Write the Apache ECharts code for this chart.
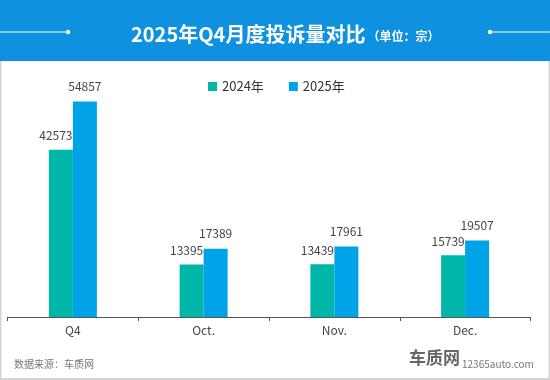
<!DOCTYPE html>
<html><head><meta charset="utf-8">
<script src="https://cdn.jsdelivr.net/npm/echarts@6/dist/echarts.min.js"></script>
<style>html,body{margin:0;padding:0;background:#fff}#c{width:550px;height:380px}</style>
</head><body><div id="c"></div>
<script>
const categories = ['Q4', 'Oct.', 'Nov.', 'Dec.'];
const seriesNames = ['2024年', '2025年'];
const values2024 = [42573, 13395, 13439, 15739];
const values2025 = [54857, 17389, 17961, 19507];
const titleMain = '2025年Q4月度投诉量对比';
const titleUnit = '（单位：宗）';
const sourceText = '数据来源：车质网';
const logoText = '车质网';
const logoUrl = '12365auto.com';

const FONT = '"Noto Sans CJK SC", "Noto Sans", sans-serif';
const chart = echarts.init(document.getElementById('c'));

// subtle diagonal stripes on the header band
const stripes = [];
for (let k = -70; k < 560; k += 4) {
  stripes.push({ type: 'line', z: -9, silent: true,
    shape: { x1: k, y1: 61, x2: k + 61, y2: 0 },
    style: { stroke: 'rgba(255,255,255,0.045)', lineWidth: 1.5 } });
}

chart.setOption({
  animation: false,
  backgroundColor: '#fff',
  textStyle: { fontFamily: FONT },
  color: ['#00b6a9', '#00a2e8'],
  title: {
    text: '{m|' + titleMain + '}{u|' + titleUnit + '}',
    left: 126, top: 19,
    textStyle: {
      rich: {
        m: { fontSize: 20, fontWeight: 'bold', color: '#fff', fontFamily: FONT },
        u: { fontSize: 12, color: '#fff', fontFamily: FONT, padding: [4, 0, 0, 2] }
      }
    }
  },
  legend: {
    data: seriesNames, top: 75, left: 203, itemWidth: 9, itemHeight: 9, itemGap: 25,
    icon: 'rect',
    textStyle: { fontSize: 13, color: '#333', fontFamily: FONT }
  },
  grid: { left: 7.5, right: 19.5, top: 81.4, bottom: 63 },
  xAxis: {
    type: 'category', data: categories,
    axisLine: { lineStyle: { color: '#555', width: 1 } },
    axisTick: { show: true, length: 4, lineStyle: { color: '#555' } },
    axisLabel: { fontSize: 12, color: '#444', margin: 7, fontFamily: FONT }
  },
  yAxis: { type: 'value', min: 0, max: 60000, show: false, splitLine: { show: false } },
  series: [
    { name: seriesNames[0], type: 'bar', data: values2024, barWidth: 24, barGap: '0%',
      label: { show: true, position: 'top', offset: [-5, -3], fontSize: 12, color: '#444', fontFamily: FONT } },
    { name: seriesNames[1], type: 'bar', data: values2025, barWidth: 24,
      label: { show: true, position: 'top', offset: [0, -4], fontSize: 12, color: '#444', fontFamily: FONT } }
  ],
  graphic: [
    { type: 'rect', z: -10, shape: { x: 0, y: 0, width: 550, height: 61 }, style: { fill: '#0a8fdf' } },
    ...stripes,
    { type: 'rect', z: -10, shape: { x: 0, y: 61, width: 1.5, height: 319 }, style: { fill: '#d4d4d4' } },
    { type: 'rect', z: -10, shape: { x: 548.5, y: 61, width: 1.5, height: 319 }, style: { fill: '#d4d4d4' } },
    { type: 'rect', z: -10, shape: { x: 0, y: 378, width: 550, height: 2 }, style: { fill: '#d4d4d4' } },
    { type: 'line', shape: { x1: 0, y1: 32, x2: 68, y2: 32 }, style: { stroke: '#fff', lineWidth: 1 } },
    { type: 'circle', shape: { cx: 68, cy: 32, r: 2.2 }, style: { fill: '#fff' } },
    { type: 'line', shape: { x1: 490, y1: 32, x2: 550, y2: 32 }, style: { stroke: '#fff', lineWidth: 1 } },
    { type: 'circle', shape: { cx: 490, cy: 32, r: 2.2 }, style: { fill: '#fff' } },
    { type: 'text', left: 14, top: 359, style: { text: sourceText, fill: '#777', font: '10px ' + FONT } },
    { type: 'text', left: 409, top: 349, style: { text: logoText, fill: '#666', font: 'bold 17px ' + FONT } },
    { type: 'text', left: 462, top: 359, style: { text: logoUrl, fill: '#777', font: '10px ' + FONT } }
  ]
});
</script></body></html>
